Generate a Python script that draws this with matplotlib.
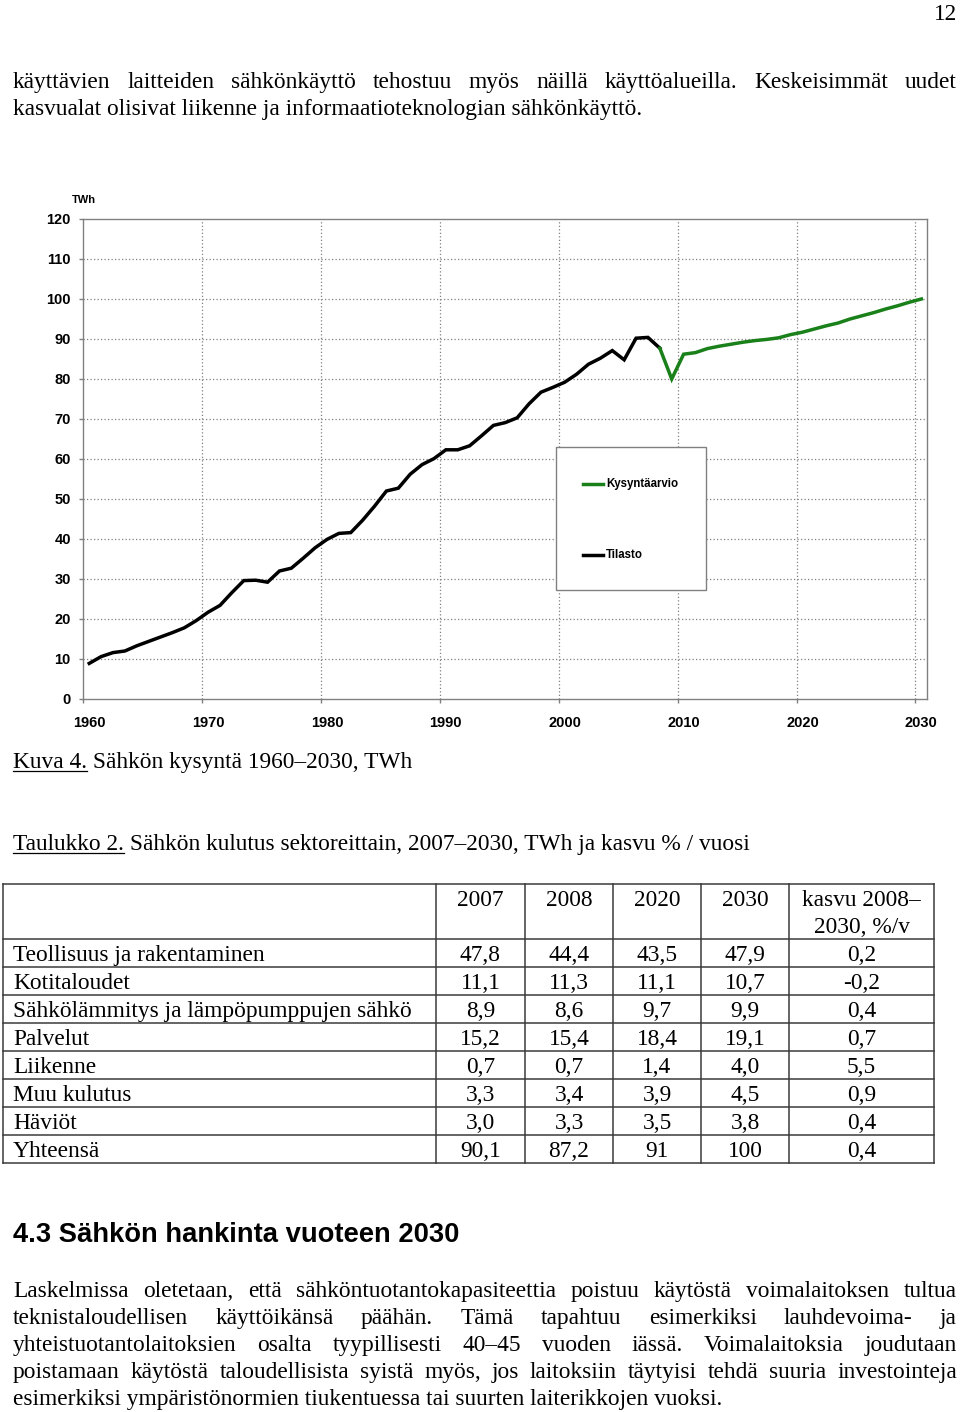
import matplotlib
matplotlib.use("Agg")
import matplotlib.pyplot as plt
from matplotlib.patches import Rectangle
from matplotlib.lines import Line2D

# ---------------- data ----------------
years_tilasto = list(range(1960, 2009))
tilasto = [8.9, 10.6, 11.6, 12.0, 13.3, 14.4, 15.5, 16.6, 17.8, 19.6,
           21.7, 23.4, 26.6, 29.6, 29.7, 29.2, 32.0, 32.7, 35.2, 37.8,
           39.9, 41.4, 41.6, 44.7, 48.2, 52.0, 52.7, 56.2, 58.6, 60.1,
           62.3, 62.3, 63.3, 65.8, 68.4, 69.1, 70.3, 73.8, 76.7, 77.9,
           79.2, 81.2, 83.7, 85.2, 87.1, 84.8, 90.2, 90.4, 87.7]
years_arvio = list(range(2008, 2031))
arvio = [87.7, 80.0, 86.2, 86.6, 87.6, 88.2, 88.7, 89.2, 89.6, 89.9,
         90.3, 91.1, 91.7, 92.5, 93.3, 94.0, 95.0, 95.8, 96.6, 97.5,
         98.3, 99.2, 100.0]
x_ticks = [1960, 1970, 1980, 1990, 2000, 2010, 2020, 2030]
y_ticks = [0, 10, 20, 30, 40, 50, 60, 70, 80, 90, 100, 110, 120]
label_tilasto = "Tilasto"
label_arvio = "Kysyntäarvio"

table_header = ["2007", "2008", "2020", "2030", "kasvu 2008–\n2030, %/v"]
table_sectors = ["Teollisuus ja rakentaminen", "Kotitaloudet",
                 "Sähkölämmitys ja lämpöpumppujen sähkö", "Palvelut",
                 "Liikenne", "Muu kulutus", "Häviöt", "Yhteensä"]
col_2007 = ["47,8", "11,1", "8,9", "15,2", "0,7", "3,3", "3,0", "90,1"]
col_2008 = ["44,4", "11,3", "8,6", "15,4", "0,7", "3,4", "3,3", "87,2"]
col_2020 = ["43,5", "11,1", "9,7", "18,4", "1,4", "3,9", "3,5", "91"]
col_2030 = ["47,9", "10,7", "9,9", "19,1", "4,0", "4,5", "3,8", "100"]
col_kasvu = ["0,2", "-0,2", "0,4", "0,7", "5,5", "0,9", "0,4", "0,4"]

intro_lines = [
    "käyttävien laitteiden sähkönkäyttö tehostuu myös näillä käyttöalueilla. Keskeisimmät uudet",
    "kasvualat olisivat liikenne ja informaatioteknologian sähkönkäyttö.",
]
caption_fig = ("Kuva 4.", " Sähkön kysyntä 1960–2030, TWh")
caption_tab = ("Taulukko 2.", " Sähkön kulutus sektoreittain, 2007–2030, TWh ja kasvu % / vuosi")
heading = "4.3 Sähkön hankinta vuoteen 2030"
para_lines = [
    "Laskelmissa oletetaan, että sähköntuotantokapasiteettia poistuu käytöstä voimalaitoksen tultua",
    "teknistaloudellisen käyttöikänsä päähän. Tämä tapahtuu esimerkiksi lauhdevoima- ja",
    "yhteistuotantolaitoksien osalta tyypillisesti 40–45 vuoden iässä. Voimalaitoksia joudutaan",
    "poistamaan käytöstä taloudellisista syistä myös, jos laitoksiin täytyisi tehdä suuria investointeja",
    "esimerkiksi ympäristönormien tiukentuessa tai suurten laiterikkojen vuoksi.",
]
page_number = "12"

# ---------------- figure ----------------
W, H = 960, 1412
fig = plt.figure(figsize=(W / 100, H / 100), dpi=100)
fig.patch.set_facecolor("white")
pg = fig.add_axes([0, 0, 1, 1])
pg.set_xlim(0, W)
pg.set_ylim(H, 0)
pg.axis("off")
renderer = fig.canvas.get_renderer()

SERIF = "Liberation Serif"
SANS = "Liberation Sans"
BODY = 16.8


def width_of(t):
    return t.get_window_extent(renderer).width


def text_line(s, x, yb, size=BODY, justify_to=None, family=SERIF, **kw):
    if justify_to is None:
        return pg.text(x, yb, s, fontsize=size, family=family, va="baseline", ha="left", **kw)
    words = s.split(" ")
    while True:
        ts = [pg.text(0, yb, w, fontsize=size, family=family, va="baseline", ha="left", **kw)
              for w in words]
        ws = [width_of(t) for t in ts]
        gap = (justify_to - x - sum(ws)) / (len(words) - 1)
        if gap >= 0.18 * size * 100 / 72 or size < 10:
            break
        for t in ts:
            t.remove()
        size *= 0.99
    cx = x
    for t, w in zip(ts, ws):
        t.set_x(cx)
        cx += w + gap
    return ts


def underlined(pre, rest, x, yb):
    t1 = pg.text(x, yb, pre, fontsize=BODY, family=SERIF, va="baseline", ha="left")
    w1 = width_of(t1)
    pg.plot([x, x + w1], [yb + 2.5, yb + 2.5], color="black", lw=0.9)
    pg.text(x + w1, yb, rest, fontsize=BODY, family=SERIF, va="baseline", ha="left")


# page number
pg.text(957, 20, page_number, fontsize=BODY, family=SERIF, va="baseline", ha="right")

# intro text
text_line(intro_lines[0], 13, 88, justify_to=957)
text_line(intro_lines[1], 13, 115)

# captions
underlined(caption_fig[0], caption_fig[1], 13, 768)
underlined(caption_tab[0], caption_tab[1], 13, 850)

# ---------------- table ----------------
tcol = "#3a3a3a"
col_x = [3, 436, 525, 613, 701, 789, 934]
row_y = [884, 939] + [939 + 28 * (i + 1) for i in range(len(table_sectors))]
for y in row_y:
    pg.plot([col_x[0], col_x[-1]], [y, y], color=tcol, lw=1.1, solid_capstyle="projecting")
for x in col_x:
    pg.plot([x, x], [row_y[0], row_y[-1]], color=tcol, lw=1.1, solid_capstyle="projecting")
centers = [(col_x[i] + col_x[i + 1]) / 2 for i in range(1, 6)]
for c, h in zip(centers, table_header):
    for k, part in enumerate(h.split("\n")):
        pg.text(c, 906 + 27 * k, part, fontsize=BODY, family=SERIF, va="baseline", ha="center")
cols = [col_2007, col_2008, col_2020, col_2030, col_kasvu]
for i, name in enumerate(table_sectors):
    yb = row_y[1] + 28 * i + 22
    pg.text(13, yb, name, fontsize=BODY, family=SERIF, va="baseline", ha="left")
    for c, col in zip(centers, cols):
        pg.text(c, yb, col[i], fontsize=BODY, family=SERIF, va="baseline", ha="center")

# heading (fit to its width in the reference)
hs = 19.5
th = pg.text(13, 1242, heading, fontsize=hs, family=SANS, weight="bold", va="baseline", ha="left")
th.set_fontsize(hs * 446 / width_of(th))

# paragraph
for k, line in enumerate(para_lines):
    yb = 1297 + 27 * k
    if k < len(para_lines) - 1:
        text_line(line, 13, yb, justify_to=957)
    else:
        text_line(line, 13, yb)

# ---------------- chart ----------------
L, R, T, B = 83.3, 927.3, 219, 699
ax = fig.add_axes([L / W, 1 - B / H, (R - L) / W, (B - T) / H])
ax.set_xlim(1960, 2031)
ax.set_ylim(0, 120)
ax.set_facecolor("white")
gcol = "#808080"
for s in ax.spines.values():
    s.set_color(gcol)
    s.set_linewidth(1.0)
# category axis: tick marks at category boundaries, labels centred on categories
ax.set_xticks(x_ticks)
ax.set_xticklabels([])
ax.set_xticks([v + 0.5 for v in x_ticks], minor=True)
ax.set_xticklabels([str(v) for v in x_ticks], minor=True)
ax.set_yticks(y_ticks)
ax.set_yticklabels([str(v) for v in y_ticks])
ax.tick_params(axis="both", which="major", direction="out", length=3, width=1.0, color=gcol,
               labelsize=10.5, labelcolor="black")
ax.tick_params(axis="x", which="minor", length=0, labelsize=10.5, pad=12)
ax.tick_params(axis="y", pad=6)
for lab in (ax.get_xticklabels(minor=True) + ax.get_yticklabels()):
    lab.set_fontfamily(SANS)
    lab.set_fontweight("bold")
for yv in y_ticks[1:-1]:
    ax.axhline(yv, color=gcol, lw=0.9, ls=(0, (1, 1.8)), zorder=1)
for xv in x_ticks[1:]:
    ax.axvline(xv, color=gcol, lw=0.9, ls=(0, (1, 1.8)), zorder=1)

xs_t = [y + 0.5 for y in years_tilasto]
xs_a = [y + 0.5 for y in years_arvio]
green = "#1a801a"
ax.plot(xs_t, tilasto, color="black", lw=2.5, zorder=3, solid_joinstyle="miter")
ax.plot(xs_a, arvio, color=green, lw=2.5, zorder=3, solid_joinstyle="miter")

pg.text(72, 203, "TWh", fontsize=8, family=SANS, weight="bold", va="baseline", ha="left")


def fx(px):
    return (px - L) / (R - L)


def fy(py):
    return (B - py) / (B - T)


ax.add_patch(Rectangle((fx(556), fy(590)), fx(706) - fx(556), fy(447) - fy(590),
                       transform=ax.transAxes, facecolor="white", edgecolor=gcol,
                       lw=1.0, zorder=5))
for py, colr, lab in [(484, green, label_arvio), (555, "black", label_tilasto)]:
    ax.add_line(Line2D([fx(583), fx(603)], [fy(py), fy(py)], transform=ax.transAxes,
                       color=colr, lw=2.5, zorder=6))
    ax.text(fx(606), fy(py), lab, transform=ax.transAxes, fontsize=8.3, family=SANS,
            weight="bold", va="center", ha="left", zorder=6)

fig.savefig("out.png", dpi=100, facecolor="white")
